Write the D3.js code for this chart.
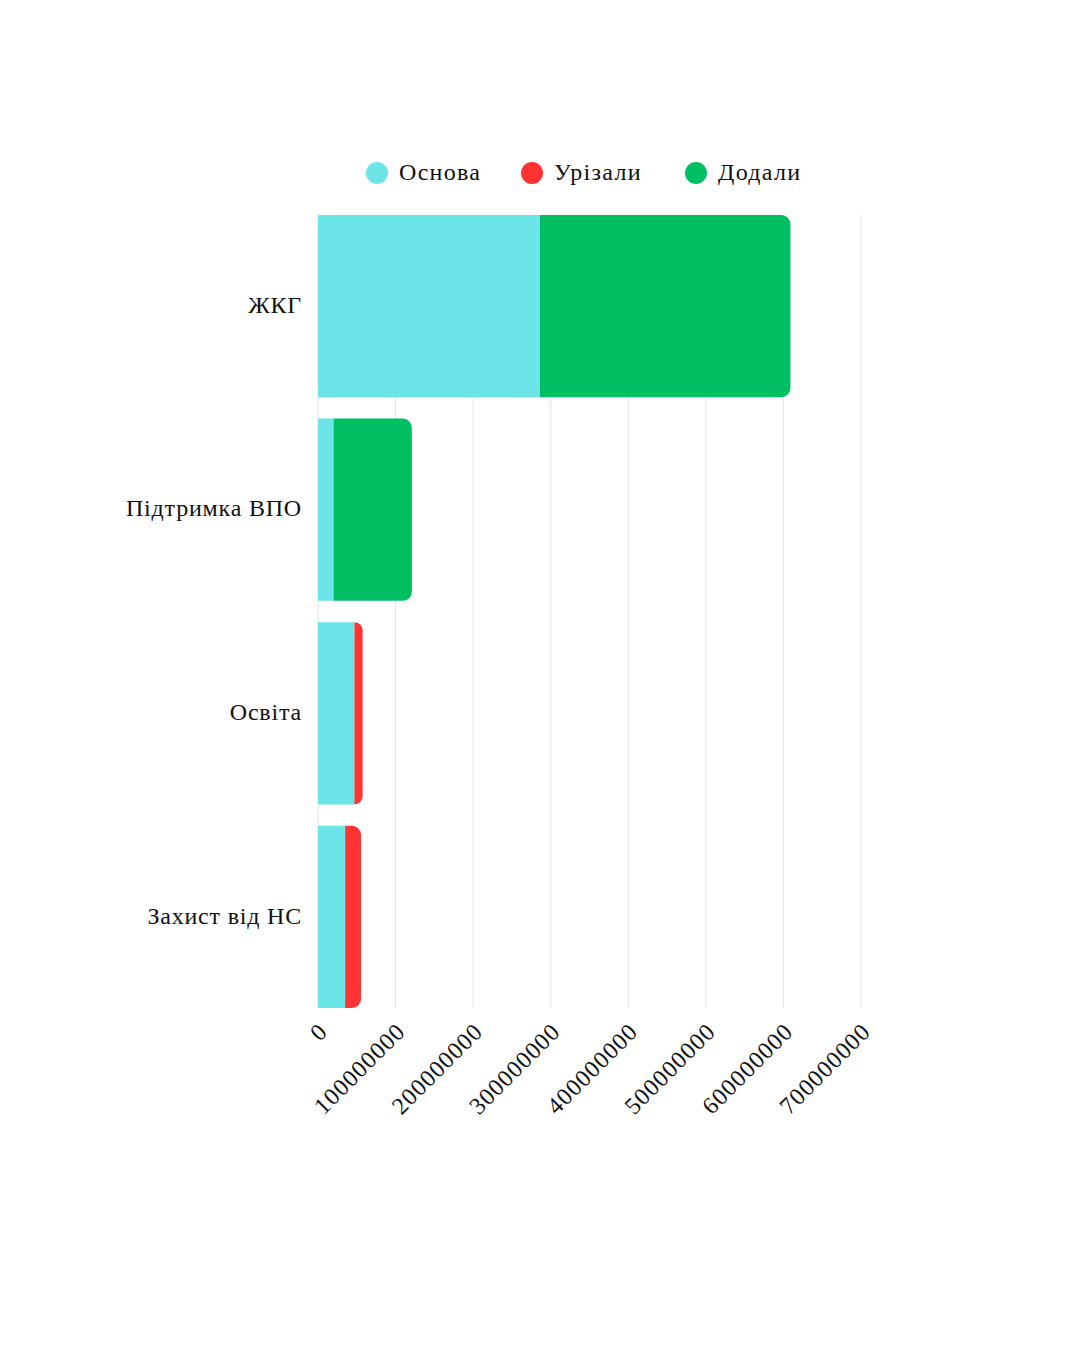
<!DOCTYPE html>
<html>
<head>
<meta charset="utf-8">
<script src="https://cdn.jsdelivr.net/npm/d3@7"></script>
<style>
  body { margin: 0; background: #fff; }
</style>
</head>
<body>
<div id="chart"></div>
<script>
// categories and series (UAH)
const categories = ["ЖКГ", "Підтримка ВПО", "Освіта", "Захист від НС"];
const base = [286000000, 20000000, 47000000, 35000000];
const cut = [0, 0, 10500000, 20500000];
const added = [323000000, 101000000, 0, 0];
const seriesNames = ["Основа", "Урізали", "Додали"];
const colors = ["#6ce5e8", "#ff3333", "#00bf63"];
const ticks = [0, 100000000, 200000000, 300000000, 400000000, 500000000, 600000000, 700000000];

const W = 1080, H = 1350;
const margin = {left: 318, right: 219, top: 215, bottom: 342};
const FONT = "Liberation Serif";

const svg = d3.select("#chart").append("svg")
    .attr("width", W).attr("height", H)
    .attr("font-family", FONT);

const x = d3.scaleLinear()
    .domain([0, 700000000])
    .range([margin.left, W - margin.right]);

const y = d3.scaleBand()
    .domain(categories)
    .range([margin.top, H - margin.bottom])
    .paddingInner(0.105)
    .paddingOuter(0);

// grid
svg.append("g")
    .selectAll("line")
    .data(ticks)
    .join("line")
    .attr("x1", d => x(d)).attr("x2", d => x(d))
    .attr("y1", margin.top).attr("y2", H - margin.bottom)
    .attr("stroke", "#e3e3e3")
    .attr("stroke-width", 1);

// stack the data
const rows = categories.map((c, i) => ({cat: c, "Основа": base[i], "Урізали": cut[i], "Додали": added[i]}));
const stacked = d3.stack().keys(seriesNames)(rows);

const r = 9;
function barPath(x0, x1, y0, h, roundRight) {
  const w = x1 - x0;
  if (!roundRight) return `M${x0},${y0}h${w}v${h}h${-w}Z`;
  const rr = Math.min(r, w);
  return `M${x0},${y0}h${w - rr}a${rr},${rr} 0 0 1 ${rr},${rr}v${h - 2 * rr}a${rr},${rr} 0 0 1 ${-rr},${rr}h${-(w - rr)}Z`;
}

// last non-zero segment of each row gets the rounded end
const lastKey = rows.map(rw => {
  let k = null;
  seriesNames.forEach(s => { if (rw[s] > 0) k = s; });
  return k;
});

stacked.forEach((layer, li) => {
  svg.append("g")
    .selectAll("path")
    .data(layer.filter(d => d[1] > d[0]))
    .join("path")
    .attr("fill", colors[li])
    .attr("d", d => {
      const i = categories.indexOf(d.data.cat);
      return barPath(x(d[0]), x(d[1]), y(d.data.cat), y.bandwidth(), lastKey[i] === layer.key);
    });
});

// y labels
svg.append("g")
  .selectAll("text")
  .data(categories)
  .join("text")
  .attr("x", margin.left - 16)
  .attr("y", d => y(d) + y.bandwidth() / 2)
  .attr("dy", "0.28em")
  .attr("text-anchor", "end")
  .attr("font-family", FONT)
  .attr("font-size", 24)
  .attr("letter-spacing", 0.8)
  .attr("fill", "#111")
  .text(d => d);

// x tick labels
svg.append("g")
  .selectAll("text")
  .data(ticks)
  .join("text")
  .attr("transform", d => `translate(${x(d) + 11},${H - margin.bottom + 25}) rotate(-45)`)
  .attr("text-anchor", "end")
  .attr("font-family", FONT)
  .attr("font-size", 24)
  .attr("letter-spacing", 1)
  .attr("fill", "#111")
  .text(d => d);

// legend
const legendX = [377, 532, 696];
const lg = svg.append("g")
  .selectAll("g")
  .data(seriesNames)
  .join("g")
  .attr("transform", (d, i) => `translate(${legendX[i]},173)`);
lg.append("circle").attr("r", 11).attr("fill", (d, i) => colors[i]);
lg.append("text")
  .attr("x", 22)
  .attr("dy", "0.3em")
  .attr("font-family", FONT)
  .attr("font-size", 24)
  .attr("letter-spacing", 1.3)
  .attr("fill", "#111")
  .text(d => d);
</script>
</body>
</html>
